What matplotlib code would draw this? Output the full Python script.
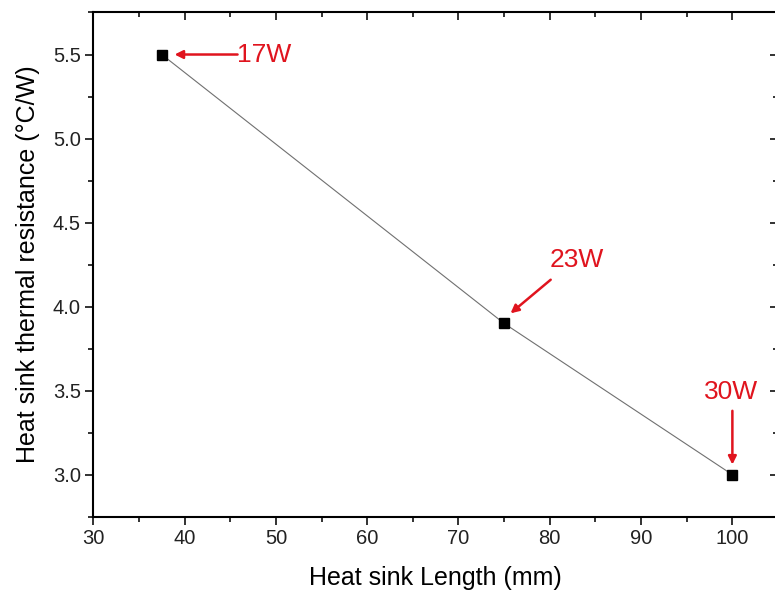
import matplotlib.pyplot as plt
from matplotlib.ticker import MultipleLocator

plt.rcParams['font.family'] = ['Liberation Sans', 'DejaVu Sans']

# data
length_mm = [37.5, 75, 100]
resistance = [5.5, 3.9, 3.0]
power_labels = ['17W', '23W', '30W']

fig = plt.figure(figsize=(7.75, 5.95), dpi=100)
ax = fig.add_axes([0.1204, 0.1316, 0.8835, 0.8474])

ax.plot(length_mm, resistance, color='#707070', lw=0.8, zorder=2)
ax.plot(length_mm, resistance, 's', color='black', ms=6.5, zorder=3)

ax.set_xlim(30, 105)
ax.set_ylim(2.75, 5.75)
ax.xaxis.set_major_locator(MultipleLocator(10))
ax.xaxis.set_minor_locator(MultipleLocator(5))
ax.yaxis.set_major_locator(MultipleLocator(0.5))
ax.yaxis.set_minor_locator(MultipleLocator(0.25))
ax.yaxis.set_major_formatter(plt.FormatStrFormatter('%.1f'))

for s in ax.spines.values():
    s.set_linewidth(1.5)
ax.tick_params(which='both', top=True, right=True, width=1.3, labelsize=14.5,
               colors='#222222', pad=3, direction='out')
ax.tick_params(which='major', length=6)
ax.tick_params(which='minor', length=3.5)
# top and right ticks point inwards
for t in ax.xaxis.get_ticklines(minor=False)[1::2] + ax.xaxis.get_ticklines(minor=True)[1::2]:
    t.set_marker(3)
for t in ax.yaxis.get_ticklines(minor=False)[1::2] + ax.yaxis.get_ticklines(minor=True)[1::2]:
    t.set_marker(0)

ax.set_xlabel('Heat sink Length (mm)', fontsize=18, labelpad=13)
ax.set_ylabel('Heat sink thermal resistance (°C/W)', fontsize=18, labelpad=9)

red = '#e0141e'
arrow = dict(arrowstyle='-|>', color=red, lw=1.8, mutation_scale=12, shrinkA=0, shrinkB=0)
# 17W
ax.annotate('', xy=(38.9, 5.5), xytext=(45.8, 5.5), arrowprops=arrow)
ax.text(45.7, 5.5, power_labels[0], color=red, fontsize=19, ha='left', va='center')
# 23W
ax.annotate('', xy=(75.7, 3.96), xytext=(80.1, 4.16), arrowprops=arrow)
ax.text(83.0, 4.28, power_labels[1], color=red, fontsize=19, ha='center', va='center')
# 30W
ax.annotate('', xy=(100, 3.06), xytext=(100, 3.38), arrowprops=arrow)
ax.text(99.8, 3.49, power_labels[2], color=red, fontsize=19, ha='center', va='center')

fig.savefig('out.png', dpi=100)
